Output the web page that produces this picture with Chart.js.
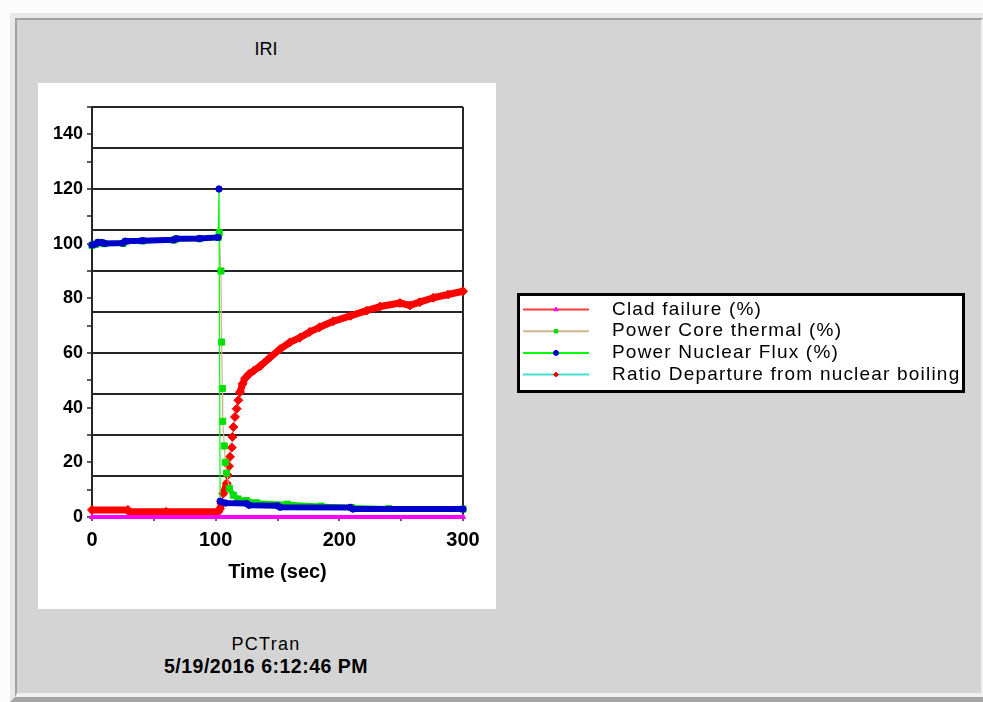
<!DOCTYPE html>
<html>
<head>
<meta charset="utf-8">
<title>IRI</title>
<script src="https://cdn.jsdelivr.net/npm/chart.js@4.4.1/dist/chart.umd.min.js"></script>
<style>
  html, body { margin: 0; padding: 0; background: #fcfcfc; }
  body { width: 983px; height: 702px; position: relative; overflow: hidden; font-family: 'Liberation Sans', Arial, sans-serif; }
  #frame { position: absolute; left: 10px; top: 13px; width: 973px; height: 689px; box-sizing: border-box;
           border-top: 5px solid #e8e8e8; border-left: 5px solid #e8e8e8; border-bottom: 5px solid #a4a4a4; background: #d4d4d4; }
  #panel { position: absolute; left: 0; top: 0; right: 0; bottom: 0;
           border-top: 2px solid #a0a0a0; border-left: 2px solid #a0a0a0; border-bottom: 4px solid #f0f0f0; border-right: 2px solid #f0f0f0; }
  #plotBg { position: absolute; left: 38px; top: 83px; width: 458px; height: 526px; background: #fff; }
  .caption { position: absolute; left: 0; width: 532px; text-align: center; color: #000; white-space: nowrap; }
  #title { top: 40px; font-size: 18px; line-height: 18px; }
  #source { top: 636px; font-size: 18px; line-height: 17px; letter-spacing: 1.3px; }
  #stamp { top: 656px; font-size: 19.5px; line-height: 20px; font-weight: bold; letter-spacing: 0.5px; }
  canvas { position: absolute; left: 0; top: 0; }
</style>
</head>
<body>
<div id="frame"><div id="panel"></div></div>
<div id="plotBg"></div>
<div class="caption" id="title">IRI</div>
<div class="caption" id="source">PCTran</div>
<div class="caption" id="stamp">5/19/2016 6:12:46 PM</div>
<canvas id="chart" width="983" height="702"></canvas>
<script>
// axis ticks
const xLabelTicks = [0, 100, 200, 300];
const xMinorTicks = [50, 150, 250];
const yLabelTicks = [0, 20, 40, 60, 80, 100, 120, 140];
const yMinorTicks = [10, 30, 50, 70, 90, 110, 130, 150];
const yGridLines = [15, 30, 45, 60, 75, 90, 105, 120, 135, 150];

const seriesNames = [
    'Clad failure (%)',
    'Power Core thermal (%)',
    'Power Nuclear Flux (%)',
    'Ratio Departure from nuclear boiling'
];

// clad failure stays at zero
const cladTime = [0, 103, 300];
const cladPct  = [0, 0, 0];

// core thermal power
const coreTime = [0, 3, 5, 8, 10, 25, 27, 41, 66, 68, 87, 102, 102.9, 104.3, 104.8, 105.4, 105.7, 107, 107.8, 108.9, 111, 114.3, 118, 125, 133, 158, 185, 210, 240, 300];
const corePct  = [99.4, 99.8, 100.4, 100.3, 100.0, 100.1, 100.8, 101.0, 101.3, 101.7, 101.8, 102.2, 104, 90, 64, 47, 35, 26, 20, 16, 10.5, 8, 6.6, 6.0, 5.2, 4.7, 4.0, 3.5, 3.1, 2.9];

// nuclear flux power
const fluxTime = [0, 3, 5, 8, 10, 25, 27, 41, 66, 68, 87, 102, 102.7, 103.6, 104.5, 108, 125, 127, 150, 152, 209, 211, 300];
const fluxPct  = [99.5, 99.9, 100.5, 100.4, 100.1, 100.2, 100.9, 101.1, 101.4, 101.8, 101.9, 102.3, 120, 5.8, 5.6, 5.1, 4.9, 4.3, 4.1, 3.6, 3.5, 2.9, 2.9];

// DNB ratio
const dnbrTime  = [0, 29, 30, 60, 102, 103.5, 104.8, 106.2, 108.9, 109.7, 110.8, 111.6, 113, 113.5, 114.3, 115.6, 117, 118.3, 119.7, 121.8, 123.7, 127, 131, 136, 144, 152, 160, 168, 176, 184, 195, 209, 222, 233, 249, 257, 265, 276, 288, 300];
const dnbrRatio = [2.6, 2.6, 1.9, 1.9, 1.9, 3.0, 5.0, 8.6, 12.3, 15.3, 18.6, 22.0, 25.4, 29.3, 32.9, 36.6, 39.6, 42.7, 45.7, 48.7, 50.7, 52.3, 53.6, 55.2, 58.4, 61.4, 63.9, 65.6, 67.7, 69.4, 71.6, 73.6, 75.5, 77.0, 78.3, 77.4, 78.6, 80.2, 81.4, 82.6];

const seriesTimes  = [cladTime, coreTime, fluxTime, dnbrTime];
const seriesValues = [cladPct, corePct, fluxPct, dnbrRatio];

// look of each series
const lineColors   = ['#ff3b3b', '#d2b48c', '#00ff00', '#40e0d0'];
const markerColors = ['#ff00ff', '#00dd00', '#0000cc', '#ff0000'];
const markerShapes = ['triangle', 'rect', 'circle', 'rectRot'];
const markerSizes  = [3, 4.3, 3.2, 4.5];
const bandWidths   = [4, 5, 6, 7];
const drawOrder    = [0, 2, 1, 3];

const ink = '#262626';
const fontFamily = "'Liberation Sans', Arial, sans-serif";

function points(t, v) {
    return t.map((x, i) => ({ x: x, y: v[i] }));
}

// closely spaced markers run together into a solid band,
// on steep runs they separate and the thin series line shows
function segmentStyle(i) {
    const steep = c => Math.abs(c.p1.y - c.p0.y) > 4 * Math.max(Math.abs(c.p1.x - c.p0.x), 0.01);
    return {
        borderColor: c => steep(c) ? lineColors[i] : markerColors[i],
        borderWidth: c => steep(c) ? 1.2 : bandWidths[i]
    };
}

const datasets = seriesNames.map((name, i) => ({
    label: name,
    data: points(seriesTimes[i], seriesValues[i]),
    borderColor: lineColors[i],
    borderWidth: 1.2,
    borderCapStyle: 'round',
    borderJoinStyle: 'round',
    pointStyle: markerShapes[i],
    pointRadius: markerSizes[i],
    pointHoverRadius: markerSizes[i],
    pointBackgroundColor: markerColors[i],
    pointBorderColor: markerColors[i],
    pointBorderWidth: 1,
    segment: segmentStyle(i),
    order: drawOrder[i],
    clip: 8,
    tension: 0
}));

// boxed legend: line sample with its marker, then the name
const legendBox = {
    id: 'legendBox',
    afterDraw(chart) {
        const ctx = chart.ctx;
        const left = 517, top = 293, width = 448, height = 100;
        ctx.save();
        ctx.fillStyle = '#fff';
        ctx.fillRect(left, top, width, height);
        ctx.strokeStyle = '#000';
        ctx.lineWidth = 3;
        ctx.strokeRect(left + 1.5, top + 1.5, width - 3, height - 3);
        ctx.font = '19px ' + fontFamily;
        ctx.letterSpacing = '1.2px';
        ctx.textBaseline = 'middle';
        chart.data.datasets.forEach((ds, i) => {
            const y = top + 16.5 + i * 21.7;
            ctx.strokeStyle = ds.borderColor;
            ctx.lineWidth = 2;
            ctx.beginPath();
            ctx.moveTo(left + 6, y);
            ctx.lineTo(left + 72, y);
            ctx.stroke();
            ctx.fillStyle = ds.pointBackgroundColor;
            ctx.strokeStyle = ds.pointBorderColor;
            ctx.lineWidth = 1;
            Chart.helpers.drawPoint(ctx, { pointStyle: ds.pointStyle, radius: 2.5, borderWidth: 1, rotation: 0 }, left + 39, y);
            ctx.fillStyle = '#000';
            ctx.fillText(ds.label, left + 95, y);
        });
        ctx.restore();
    }
};

new Chart(document.getElementById('chart'), {
    type: 'line',
    data: { datasets: datasets },
    options: {
        responsive: false,
        animation: false,
        devicePixelRatio: 1,
        layout: { padding: { left: 32, right: 520, top: 107, bottom: 105 } },
        plugins: {
            legend: { display: false },
            tooltip: { enabled: false }
        },
        scales: {
            x: {
                type: 'linear',
                min: 0,
                max: 300,
                afterBuildTicks: axis => {
                    axis.ticks = xLabelTicks.concat(xMinorTicks).sort((a, b) => a - b).map(v => ({ value: v }));
                },
                afterFit: axis => { axis.height = 80; },
                ticks: {
                    autoSkip: false,
                    maxRotation: 0,
                    padding: 7,
                    color: '#000',
                    font: { family: fontFamily, size: 20, weight: 'bold' },
                    callback: v => xLabelTicks.includes(v) ? String(v) : ''
                },
                grid: {
                    color: c => (c.tick && c.tick.value === 300) ? ink : 'rgba(0,0,0,0)',
                    lineWidth: 2,
                    tickLength: 4,
                    tickColor: ink,
                    tickWidth: 1.5
                },
                border: { color: ink, width: 2 },
                title: {
                    display: true,
                    text: 'Time (sec)',
                    color: '#000',
                    font: { family: fontFamily, size: 20, weight: 'bold' },
                    padding: { top: 0, bottom: 13 }
                }
            },
            y: {
                type: 'linear',
                min: 0,
                max: 150,
                afterBuildTicks: axis => {
                    const vals = [0].concat(yMinorTicks, yGridLines, yLabelTicks);
                    axis.ticks = vals.filter((v, i) => vals.indexOf(v) === i).sort((a, b) => a - b).map(v => ({ value: v }));
                },
                afterFit: axis => { axis.width = 60; },
                ticks: {
                    autoSkip: false,
                    padding: 4,
                    color: '#000',
                    font: { family: fontFamily, size: 18, weight: 'bold' },
                    callback: v => yLabelTicks.includes(v) ? String(v) : ''
                },
                grid: {
                    color: c => (c.tick && yGridLines.includes(c.tick.value)) ? ink : 'rgba(0,0,0,0)',
                    lineWidth: 2,
                    tickLength: 5,
                    tickColor: c => (c.tick && (yLabelTicks.includes(c.tick.value) || yMinorTicks.includes(c.tick.value))) ? ink : 'rgba(0,0,0,0)',
                    tickWidth: 1.5
                },
                border: { color: ink, width: 2 }
            }
        }
    },
    plugins: [legendBox]
});
</script>
</body>
</html>
